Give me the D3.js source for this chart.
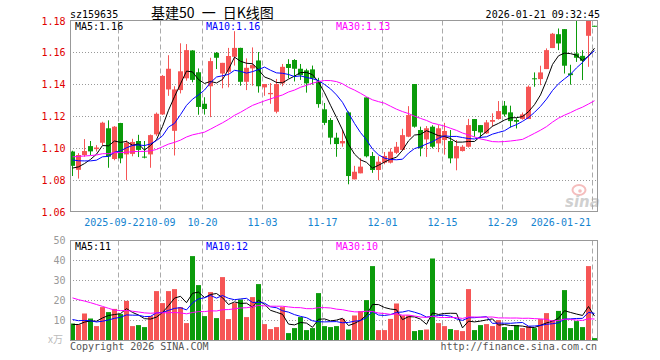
<!DOCTYPE html>
<html><head><meta charset="utf-8">
<script src="https://cdn.jsdelivr.net/npm/d3@7"></script>
<style>
body{margin:0;background:#fff}
svg{display:block}
text{font-family:"DejaVu Sans Mono","Liberation Mono",monospace;font-size:10px}
</style>
</head><body>
<svg id="c" width="660" height="360"></svg>
<script>
// ---------- data ----------
const dates = ["2025-09-10","2025-09-11","2025-09-12","2025-09-15","2025-09-16","2025-09-17","2025-09-18","2025-09-19","2025-09-22","2025-09-23",
"2025-09-24","2025-09-25","2025-09-26","2025-09-29","2025-09-30","2025-10-09","2025-10-10","2025-10-13","2025-10-14","2025-10-15",
"2025-10-16","2025-10-17","2025-10-20","2025-10-21","2025-10-22","2025-10-23","2025-10-24","2025-10-27","2025-10-28","2025-10-29",
"2025-10-30","2025-10-31","2025-11-03","2025-11-04","2025-11-05","2025-11-06","2025-11-07","2025-11-10","2025-11-11","2025-11-12",
"2025-11-13","2025-11-14","2025-11-17","2025-11-18","2025-11-19","2025-11-20","2025-11-21","2025-11-24","2025-11-25","2025-11-26",
"2025-11-27","2025-11-28","2025-12-01","2025-12-02","2025-12-03","2025-12-04","2025-12-05","2025-12-08","2025-12-09","2025-12-10",
"2025-12-11","2025-12-12","2025-12-15","2025-12-16","2025-12-17","2025-12-18","2025-12-19","2025-12-22","2025-12-23","2025-12-24",
"2025-12-25","2025-12-26","2025-12-29","2025-12-30","2025-12-31","2026-01-05","2026-01-06","2026-01-07","2026-01-08","2026-01-09",
"2026-01-12","2026-01-13","2026-01-14","2026-01-15","2026-01-16","2026-01-19","2026-01-20","2026-01-21"];

const open = [1.0980,1.0865,1.0958,1.1014,1.0995,1.1035,1.1126,1.0933,1.1159,1.0962,
1.0965,1.1046,1.0948,1.0962,1.1088,1.1213,1.1370,1.1110,1.1366,1.1440,
1.1615,1.1478,1.1280,1.1390,1.1600,1.1470,1.1481,1.1575,1.1631,1.1418,
1.1502,1.1552,1.1383,1.1340,1.1230,1.1408,1.1530,1.1555,1.1500,1.1490,
1.1496,1.1420,1.1245,1.1178,1.1067,1.1031,1.1226,1.0805,1.0843,1.1320,
1.0952,1.0864,1.0910,1.0910,1.0972,1.0990,1.1073,1.1404,1.1115,1.1056,
1.1136,1.1031,1.1052,1.1046,1.0937,1.0983,1.1010,1.1184,1.1146,1.1094,
1.1167,1.1184,1.1268,1.1226,1.1178,1.1184,1.1184,1.1440,1.1435,1.1498,
1.1630,1.1717,1.1749,1.1471,1.1596,1.1581,1.1707,1.1770];

const high = [1.0985,1.0970,1.1058,1.1046,1.1020,1.1167,1.1176,1.1140,1.1160,1.1050,
1.1060,1.1085,1.1046,1.1087,1.1225,1.1460,1.1585,1.1390,1.1660,1.1655,
1.1617,1.1502,1.1321,1.1569,1.1605,1.1537,1.1631,1.1736,1.1632,1.1565,
1.1634,1.1605,1.1404,1.1410,1.1436,1.1530,1.1560,1.1560,1.1530,1.1500,
1.1520,1.1443,1.1285,1.1190,1.1098,1.1115,1.1232,1.0890,1.0939,1.1320,
1.0977,1.0950,1.0977,1.1000,1.1040,1.1123,1.1265,1.1404,1.1136,1.1140,
1.1145,1.1146,1.1160,1.1115,1.1052,1.1020,1.1185,1.1184,1.1146,1.1178,
1.1220,1.1297,1.1297,1.1268,1.1190,1.1225,1.1395,1.1477,1.1519,1.1628,
1.1725,1.1753,1.1749,1.1525,1.1800,1.1617,1.1800,1.1770];

const low = [1.0826,1.0810,1.0947,1.0958,1.0980,1.1020,1.0878,1.0925,1.0906,1.0800,
1.0950,1.0945,1.0937,1.0878,1.1078,1.1210,1.1330,1.0955,1.1345,1.1425,
1.1415,1.1211,1.1212,1.1196,1.1498,1.1377,1.1383,1.1520,1.1393,1.1366,
1.1393,1.1350,1.1330,1.1280,1.1220,1.1390,1.1440,1.1420,1.1430,1.1350,
1.1400,1.1255,1.1146,1.1025,1.0947,1.1010,1.0774,1.0805,1.0843,1.0943,
1.0846,1.0800,1.0900,1.0905,1.0965,1.0985,1.1070,1.1130,1.0950,1.0946,
1.1000,1.0976,1.0960,1.0906,1.0862,1.0980,1.1005,1.1073,1.1063,1.1090,
1.1136,1.1180,1.1200,1.1130,1.1125,1.1180,1.1184,1.1387,1.1397,1.1498,
1.1630,1.1617,1.1470,1.1400,1.1543,1.1429,1.1512,1.1765];

const close = [1.0890,1.0958,1.0983,1.0981,1.1005,1.1161,1.0948,1.1136,1.0937,1.1035,
1.1040,1.0990,1.0942,1.1083,1.1217,1.1455,1.1500,1.1370,1.1484,1.1617,
1.1430,1.1260,1.1247,1.1548,1.1569,1.1537,1.1580,1.1631,1.1418,1.1506,
1.1523,1.1390,1.1404,1.1348,1.1404,1.1512,1.1505,1.1500,1.1460,1.1408,
1.1440,1.1278,1.1160,1.1067,1.1027,1.1046,1.0826,1.0853,1.0885,1.0950,
1.0864,1.0916,1.0952,1.0979,1.1010,1.1083,1.1209,1.1136,1.1000,1.1126,
1.1010,1.1126,1.1109,1.0937,1.1014,1.1010,1.1146,1.1109,1.1100,1.1163,
1.1178,1.1234,1.1213,1.1171,1.1167,1.1213,1.1387,1.1434,1.1477,1.1617,
1.1720,1.1659,1.1519,1.1460,1.1569,1.1550,1.1800,1.1765];

// volume, 10k units (万)
const volume = [8.5,8.0,13.5,11.0,7.2,16.7,14.2,15.8,13.2,19.8,
7.2,7.7,6.7,12.2,24.7,18.7,24.7,25.7,16.7,8.7,
42.2,27.7,12.2,24.2,11.2,31.7,10.7,18.7,20.5,11.7,
21.7,28.2,8.2,5.7,6.7,16.7,3.7,6.2,11.7,5.2,
6.2,23.7,7.2,6.7,7.2,10.8,5.5,12.5,14.7,20.2,
37.2,5.2,5.2,10.8,18.5,12.5,12.5,4.7,5.2,5.5,
41.0,8.7,7.2,5.7,5.2,4.7,25.7,5.2,7.7,8.2,
7.2,10.2,6.7,5.2,7.7,6.2,7.2,6.2,10.7,13.7,
10.2,14.8,25.2,6.2,9.7,6.7,37.2,1.2];

// sessions before the visible window (estimated from where the MA lines start)
const priorClose = [1.088,1.090,1.091,1.089,1.092,1.094,1.093,1.095,1.096,1.094,
1.093,1.095,1.097,1.096,1.0945,1.100,1.104,1.106,1.103,1.1025,
1.101,1.099,1.098,1.096,1.095,1.092,1.088,1.085,1.084];
const priorVolume = [35,34,35,34.7,45,43,42.8,20,19,18,19,20,18,19,19,22,23,22,23,22.5,14,12,13,13,13,8,7.5,8,8];

const priceTicks = [1.06,1.08,1.10,1.12,1.14,1.16,1.18];
const volumeTicks = [10,20,30,40,50];
const tickDates = ["2025-09-22","2025-10-09","2025-10-20","2025-11-03","2025-11-17","2025-12-01","2025-12-15","2025-12-29","2026-01-21"];
const tickLabels = ["2025-09-22","10-09","10-20","11-03","11-17","12-01","12-15","12-29","2026-01-21"];
const priceMALabels = ["MA5:1.16","MA10:1.16","MA30:1.13"];
const volumeMALabels = ["MA5:11","MA10:12","MA30:10"];

// ---------- drawing ----------
const svg = d3.select("#c");
const L = 70, R = 598;
const pTop = 20.5, pBot = 211.5, vTop = 240.5, vBot = 340.5;
const UP = "#f65555", DOWN = "#0b9b0b";
const maColors = ["#000000", "#0000ff", "#ff00ff"];

const x = d3.scaleBand().domain(dates).range([L, R]).padding(0);
const cx = d => x(d) + 2.5;
const y = d3.scaleLinear().domain([1.06, 1.18]).range([212, 21]);
const yv = d3.scaleLinear().domain([0, 50]).range([vBot, vTop]);

function ma(arr, prior, n) {
  const all = prior.concat(arr);
  return arr.map((_, i) => d3.mean(all.slice(prior.length + i - n + 1, prior.length + i + 1)));
}

const defs = svg.append("defs");
defs.append("clipPath").attr("id", "cp").append("rect").attr("x", L).attr("y", pTop).attr("width", R - L).attr("height", pBot - pTop);
defs.append("clipPath").attr("id", "cv").append("rect").attr("x", L).attr("y", vTop).attr("width", R - L).attr("height", vBot - vTop);

// header
svg.append("text").attr("x", 70).attr("y", 17.5).attr("fill", "#000").text("sz159635");
svg.append("text").attr("x", 151).attr("y", 18).attr("fill", "#000")
  .style("font-family", "'Noto Sans CJK SC','DejaVu Sans',sans-serif").style("font-size", "14px")
  .style("word-spacing", "4px")
  .text("基建50 一 日K线图");
svg.append("text").attr("x", 600).attr("y", 17.5).attr("text-anchor", "end").attr("fill", "#000").text("2026-01-21 09:32:45");

// grids
function grids(top, bot, yTicks, ys) {
  const g = svg.append("g");
  g.selectAll("line.h").data(yTicks).join("line")
    .attr("x1", L).attr("x2", R)
    .attr("y1", d => Math.floor(ys(d)) + 0.5).attr("y2", d => Math.floor(ys(d)) + 0.5)
    .attr("stroke", "#999").attr("stroke-dasharray", "1,2");
  g.selectAll("line.v").data(tickDates).join("line")
    .attr("x1", d => x(d) + 0.5).attr("x2", d => x(d) + 0.5)
    .attr("y1", top).attr("y2", bot)
    .attr("stroke", "#aaa").attr("stroke-dasharray", "5,3");
}
grids(pTop, pBot, priceTicks.filter(t => t > 1.06 && t < 1.18), y);
grids(vTop, vBot, volumeTicks.filter(t => t < 50), yv);

// price axis labels
svg.append("g").selectAll("text").data(priceTicks).join("text")
  .attr("x", 65.5).attr("y", d => y(d) + 3.5).attr("text-anchor", "end")
  .attr("fill", "#e00000").text(d => d.toFixed(2));

// date labels: centred on their gridline; first ends where the second begins, last kept inside the frame
const last = tickDates.length - 1;
svg.append("g").selectAll("text").data(tickDates).join("text")
  .attr("x", (d, i) => i === last ? x(d) - 1 : i === 0 ? x(tickDates[1]) - 15.5 : x(d) + 0.5)
  .attr("y", 225.5)
  .attr("text-anchor", (d, i) => i === last || i === 0 ? "end" : "middle")
  .attr("fill", "#1584d0").text((d, i) => tickLabels[i]);

// volume axis labels
svg.append("g").selectAll("text").data(volumeTicks).join("text")
  .attr("x", 65.5).attr("y", d => yv(d) + 3.5).attr("text-anchor", "end")
  .attr("fill", "#999").text(d => d);
svg.append("text").attr("x", 48).attr("y", 343).attr("fill", "#bbb")
  .style("font-family", "'Noto Sans CJK SC',sans-serif").style("font-size", "10px").text("x万");

// sina watermark
const wm = svg.append("g").attr("opacity", 0.55);
wm.append("ellipse").attr("cx", 579).attr("cy", 190).attr("rx", 6.5).attr("ry", 5).attr("fill", "none").attr("stroke", "#e88").attr("stroke-width", 2);
wm.append("circle").attr("cx", 580).attr("cy", 191).attr("r", 1.8).attr("fill", "#e88");
wm.append("text").attr("x", 565).attr("y", 207).attr("fill", "#aaa")
  .style("font-family", "'DejaVu Sans',sans-serif").style("font-size", "15px")
  .style("font-weight", "bold").style("font-style", "italic").text("sina");

// candles
const idx = d3.range(dates.length);
const cg = svg.append("g").attr("clip-path", "url(#cp)");
cg.selectAll("line").data(idx).join("line")
  .attr("x1", i => cx(dates[i])).attr("x2", i => cx(dates[i]))
  .attr("y1", i => y(high[i])).attr("y2", i => y(low[i]))
  .attr("stroke", i => close[i] >= open[i] ? UP : DOWN);
cg.selectAll("rect").data(idx).join("rect")
  .attr("x", i => x(dates[i])).attr("width", 5)
  .attr("y", i => y(Math.max(open[i], close[i])))
  .attr("height", i => Math.max(1, y(Math.min(open[i], close[i])) - y(Math.max(open[i], close[i]))))
  .attr("fill", i => close[i] >= open[i] ? UP : DOWN);

// price MAs
const pLine = d3.line().x((v, i) => cx(dates[i])).y(v => y(v));
[5, 10, 30].forEach((n, k) => {
  cg.append("path").attr("d", pLine(ma(close, priorClose, n)))
    .attr("fill", "none").attr("stroke", maColors[k]).attr("stroke-width", 1);
});

// volume bars
const vg = svg.append("g").attr("clip-path", "url(#cv)");
vg.selectAll("rect").data(idx).join("rect")
  .attr("x", i => x(dates[i])).attr("width", 5)
  .attr("y", i => yv(volume[i])).attr("height", i => vBot - yv(volume[i]))
  .attr("fill", i => close[i] >= open[i] ? UP : DOWN);
const vLine = d3.line().x((v, i) => cx(dates[i])).y(v => yv(v));
[5, 10, 30].forEach((n, k) => {
  vg.append("path").attr("d", vLine(ma(volume, priorVolume, n)))
    .attr("fill", "none").attr("stroke", maColors[k]).attr("stroke-width", 1);
});

// frames
[[pTop, pBot], [vTop, vBot]].forEach(([t, b]) => {
  svg.append("rect").attr("x", L + 0.5).attr("y", t).attr("width", R - L - 1).attr("height", b - t)
    .attr("fill", "none").attr("stroke", "#999");
});

// MA labels
const labX = [75, 206, 336];
priceMALabels.forEach((t, k) => svg.append("text").attr("x", labX[k]).attr("y", 30).attr("fill", maColors[k]).text(t));
volumeMALabels.forEach((t, k) => svg.append("text").attr("x", labX[k]).attr("y", 250).attr("fill", maColors[k]).text(t));

// footer
svg.append("text").attr("x", 70).attr("y", 350).attr("fill", "#555").text("Copyright 2026 SINA.COM");
svg.append("text").attr("x", 597).attr("y", 350).attr("text-anchor", "end").attr("fill", "#555").text("http://finance.sina.com.cn");
</script>
</body></html>
